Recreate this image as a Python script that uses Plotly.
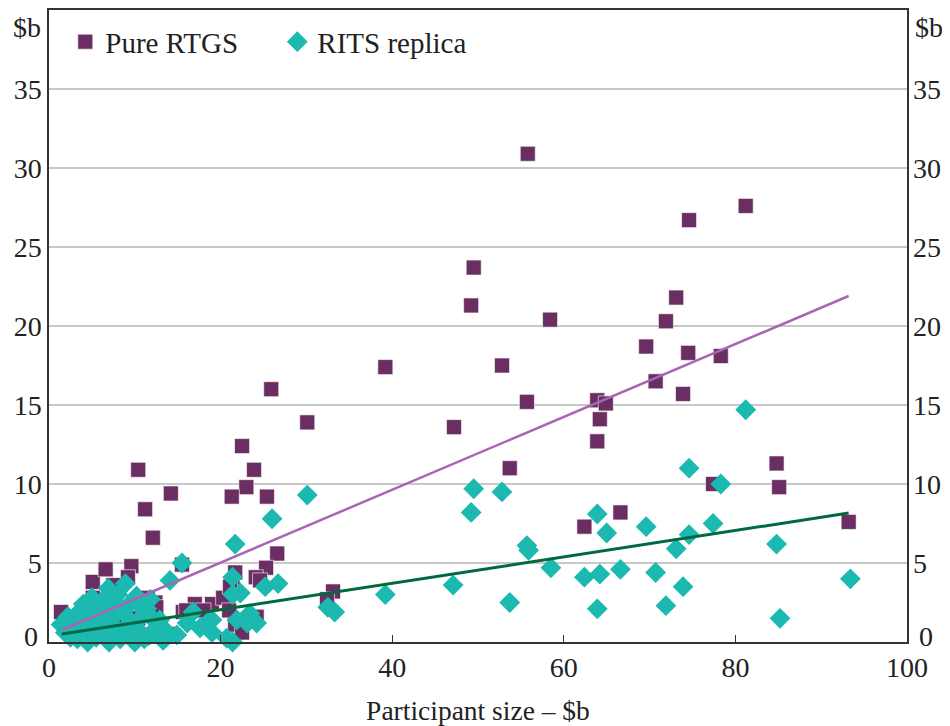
import plotly.graph_objects as go

# Pure RTGS: participant size ($b) vs liquidity ($b)
rtgs_x = [55.8, 81.2, 74.6, 49.5, 49.2, 73.1, 71.9, 58.4, 69.6, 74.5, 78.3, 52.8, 39.2, 70.7,
          73.9, 55.7, 63.9, 64.9, 64.2, 63.9, 47.2, 30.1, 25.9, 22.5, 23.0, 23.9, 21.3, 25.4,
          10.4, 14.2, 11.2, 12.1, 53.7, 84.8, 85.1, 77.4, 66.6, 62.4, 93.2, 26.6, 25.3, 24.1,
          21.7, 33.1, 32.4, 17.0, 19.0, 20.3, 21.4, 15.6, 21.7, 24.2, 24.6, 21.1, 18.5, 12.4,
          15.5, 1.4, 3.7, 5.1, 5.1, 6.6, 7.5, 9.6, 9.2, 11.5, 11.9, 10.4, 6.0, 8.0, 4.5, 5.5,
          7.0, 9.0, 10.0, 12.5, 13.0, 16.0, 18.0, 22.5, 8.5, 11.0, 14.0, 21.0]
rtgs_y = [30.9, 27.6, 26.7, 23.7, 21.3, 21.8, 20.3, 20.4, 18.7, 18.3, 18.1, 17.5, 17.4, 16.5,
          15.7, 15.2, 15.3, 15.1, 14.1, 12.7, 13.6, 13.9, 16.0, 12.4, 9.8, 10.9, 9.2, 9.2,
          10.9, 9.4, 8.4, 6.6, 11.0, 11.3, 9.8, 10.0, 8.2, 7.3, 7.6, 5.6, 4.7, 4.1,
          4.4, 3.2, 2.7, 2.4, 2.4, 2.8, 3.4, 1.9, 1.1, 1.6, 3.9, 3.5, 1.2, 2.5,
          4.9, 1.9, 1.2, 3.8, 2.8, 4.6, 3.6, 4.8, 4.1, 2.8, 1.8, 1.5, 2.5, 2.2, 1.0, 0.5,
          0.3, 1.0, 0.4, 2.2, 0.8, 2.0, 2.0, 0.6, 0.6, 0.3, 0.5, 2.0]

# RITS replica
rits_x = [81.2, 74.6, 78.3, 49.5, 52.8, 49.2, 30.1, 63.9, 69.6, 77.4, 74.6, 65.0, 73.1, 84.8,
          55.7, 55.9, 58.5, 62.4, 64.2, 66.6, 70.7, 73.9, 93.4, 47.1, 39.2, 53.7, 63.9, 71.9,
          85.2, 21.7, 26.0, 15.5, 14.1, 32.5, 33.3, 26.7, 25.2, 21.4, 22.3, 21.4, 23.4, 24.2,
          23.1, 21.9, 19.0, 16.8, 16.1, 18.8, 20.7, 21.4, 19.0, 14.9, 13.8, 13.3, 12.1, 11.8,
          1.4, 1.9, 2.5, 3.0, 3.3, 3.8, 4.2, 4.5, 4.8, 5.2, 5.5, 5.8, 6.0, 6.3, 6.5, 6.9,
          7.0, 7.3, 7.6, 7.9, 8.0, 8.3, 8.6, 8.9, 9.1, 9.4, 9.7, 10.0, 10.2, 10.5, 10.8, 11.1,
          11.4, 12.2, 12.9, 17.6, 2.2, 3.5, 4.0, 5.0, 6.2, 7.2, 8.2, 9.3, 10.6, 11.6, 12.6]
rits_y = [14.7, 11.0, 10.0, 9.7, 9.5, 8.2, 9.3, 8.1, 7.3, 7.5, 6.8, 6.9, 5.9, 6.2,
          6.1, 5.8, 4.7, 4.1, 4.3, 4.6, 4.4, 3.5, 4.0, 3.6, 3.0, 2.5, 2.1, 2.3,
          1.5, 6.2, 7.8, 5.0, 3.9, 2.2, 1.9, 3.7, 3.5, 4.1, 3.1, 3.0, 1.8, 1.2,
          1.2, 1.4, 1.4, 1.9, 1.2, 1.4, 0.25, 0.0, 0.6, 0.45, 0.6, 0.1, 0.6, 2.7,
          1.1, 0.6, 0.3, 0.9, 0.2, 1.4, 0.5, 0.0, 1.0, 1.8, 0.3, -0.2, 1.2, 2.2, 0.6, 3.4,
          0.0, 1.5, 2.6, 0.8, 3.0, 0.2, 1.9, 3.7, 0.5, 2.4, 1.2, 0.0, 2.9, 0.7, 1.6, 0.2,
          2.1, 1.4, 1.4, 0.9, 1.6, 1.9, 2.4, 2.8, 2.6, 1.0, 2.1, 1.1, 2.3, 0.4, 0.9]

# fitted trend lines (end points)
rtgs_fit_x = [1.5, 93.2]
rtgs_fit_y = [0.76, 21.9]
rits_fit_x = [1.5, 93.2]
rits_fit_y = [0.5, 8.16]

y_ticks = [0, 5, 10, 15, 20, 25, 30, 35]
# the 0 labels sit a little above the axis, so they are added separately
y_ticktext = [''] + [str(v) for v in y_ticks[1:]]
x_ticks = [0, 20, 40, 60, 80, 100]

PURPLE = '#6B2E63'
TEAL = '#1BB9AF'
FONT = 'Liberation Serif'

fig = go.Figure()
fig.add_trace(go.Scatter(x=rtgs_x, y=rtgs_y, mode='markers', name='Pure RTGS',
                         marker=dict(symbol='square', size=15, color=PURPLE,
                                     line=dict(width=1, color='rgba(255,255,255,0.6)')),
                         cliponaxis=False))
fig.add_trace(go.Scatter(x=rits_x, y=rits_y, mode='markers', name='RITS replica',
                         marker=dict(symbol='diamond', size=16, color=TEAL, line=dict(width=0)),
                         cliponaxis=False))
fig.add_trace(go.Scatter(x=rtgs_fit_x, y=rtgs_fit_y, mode='lines', showlegend=False,
                         line=dict(color='#A965B3', width=2.5)))
fig.add_trace(go.Scatter(x=rits_fit_x, y=rits_fit_y, mode='lines', showlegend=False,
                         line=dict(color='#00693E', width=3)))
# invisible trace so the right-hand axis is drawn
fig.add_trace(go.Scatter(x=[None], y=[None], yaxis='y2', showlegend=False))

# the page body adds an 8px offset, so the figure is 8px smaller each way
fig.update_layout(
    width=942, height=718,
    margin=dict(l=41, r=43, t=2, b=84),
    paper_bgcolor='white', plot_bgcolor='white',
    font=dict(family=FONT, size=28, color='#222'),
    showlegend=True,
    legend=dict(orientation='h', x=0.019, y=0.99, xanchor='left', yanchor='top',
                font=dict(size=29), bgcolor='rgba(0,0,0,0)', itemwidth=30,
                entrywidth=167),
    xaxis=dict(range=[0, 100], tickvals=x_ticks, showgrid=False, zeroline=False,
               showline=True, linecolor='#333', linewidth=1.5, mirror=True,
               ticks='inside', ticklen=7, tickcolor='#333', automargin=False,
               title=dict(text='Participant size – $b', standoff=19, font=dict(size=27.5))),
    yaxis=dict(range=[0, 40], tickvals=y_ticks, ticktext=y_ticktext, showgrid=True,
               gridcolor='#C8C8C8', gridwidth=1.5, zeroline=False, showline=True,
               linecolor='#333', linewidth=1.5, mirror=True, ticks='', automargin=False),
    yaxis2=dict(range=[0, 40], tickvals=y_ticks, ticktext=y_ticktext, overlaying='y',
                side='right', showgrid=False, zeroline=False, showline=False, ticks='',
                automargin=False, ticklabelstandoff=5),
)
fig.add_annotation(text='0', x=0, y=0, xref='paper', yref='y', xanchor='right',
                   yanchor='middle', xshift=-9, yshift=6, showarrow=False, font=dict(size=28))
fig.add_annotation(text='0', x=1, y=0, xref='paper', yref='y', xanchor='left',
                   yanchor='middle', xshift=10, yshift=6, showarrow=False, font=dict(size=28))
fig.add_annotation(text='$b', x=0, y=1, xref='paper', yref='paper', xanchor='right',
                   yanchor='top', xshift=-6, yshift=0, showarrow=False, font=dict(size=28))
fig.add_annotation(text='$b', x=1, y=1, xref='paper', yref='paper', xanchor='left',
                   yanchor='top', xshift=6, yshift=0, showarrow=False, font=dict(size=28))

fig.write_html("out.html")
